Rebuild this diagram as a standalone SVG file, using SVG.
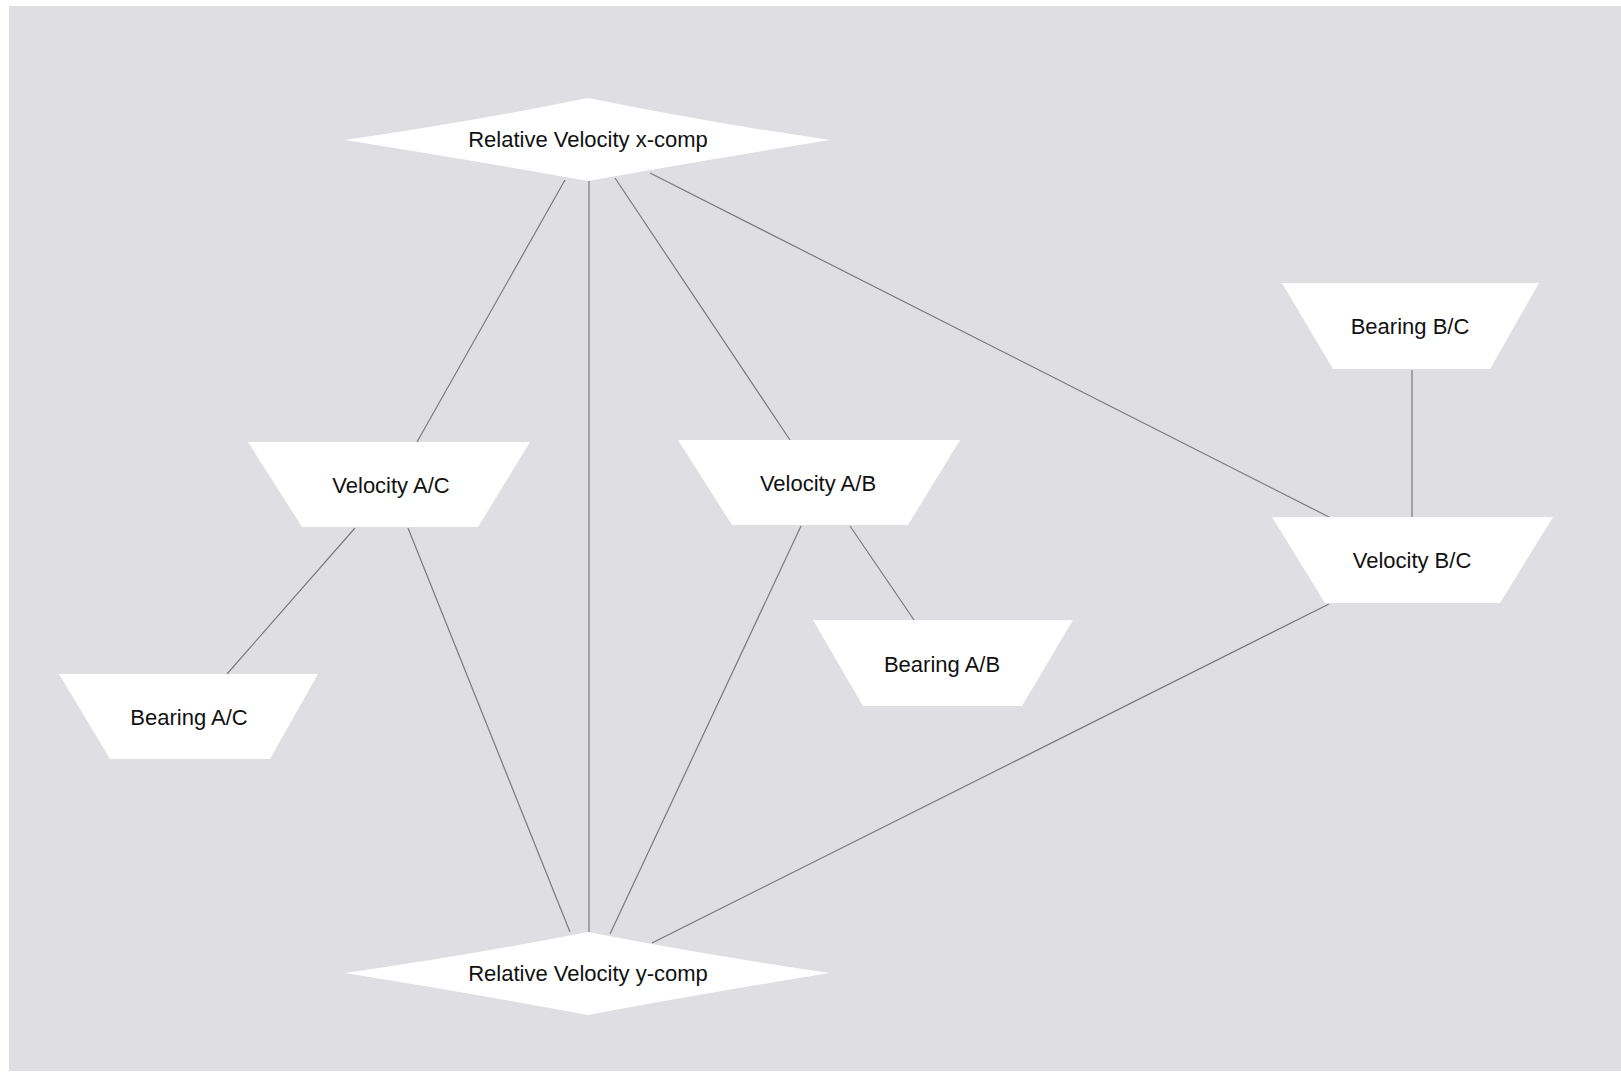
<svg xmlns="http://www.w3.org/2000/svg" width="1621" height="1073" viewBox="0 0 1621 1073">
<style>
.shape{fill:#ffffff;stroke:none}
.lbl{font-family:"Liberation Sans",Arial,sans-serif;font-size:22px;fill:#111;text-anchor:middle}
.edge{stroke:#7a7a7a;stroke-width:1.2;fill:none}
</style>
<rect x="0" y="0" width="1621" height="1073" fill="#ffffff"/>
<rect x="9" y="6" width="1612" height="1065" fill="#dfdee3"/>
<g id="connectors">
<line class="edge" x1="565" y1="180" x2="417" y2="442"/>
<line class="edge" x1="589" y1="181" x2="589" y2="932"/>
<line class="edge" x1="615" y1="178" x2="790" y2="440"/>
<line class="edge" x1="650" y1="173" x2="1329" y2="517"/>
<line class="edge" x1="1412" y1="370" x2="1412" y2="517"/>
<line class="edge" x1="355" y1="528" x2="227" y2="674"/>
<line class="edge" x1="408" y1="528" x2="570" y2="932"/>
<line class="edge" x1="801" y1="526" x2="610" y2="934"/>
<line class="edge" x1="850" y1="526" x2="914" y2="620"/>
<line class="edge" x1="1329" y1="604" x2="652" y2="943"/>
</g>
<g id="rel-vel-x">
<path class="shape" d="M345,140 Q470,122 588,98 Q706,122 830,140 Q706,160 588,181 Q470,160 345,140 Z"/>
<text class="lbl" x="588" y="147">Relative Velocity x-comp</text>
</g>
<g id="rel-vel-y">
<path class="shape" d="M345,973 Q470,955 588,932 Q706,955 830,973 Q706,993 588,1015 Q470,993 345,973 Z"/>
<text class="lbl" x="588" y="981">Relative Velocity y-comp</text>
</g>
<g id="velocity-ac">
<polygon class="shape" points="248,442 530,442 478,527 302,527"/>
<text class="lbl" x="391" y="493">Velocity A/C</text>
</g>
<g id="bearing-ac">
<polygon class="shape" points="59,674 318,674 270,759 110,759"/>
<text class="lbl" x="189" y="725">Bearing A/C</text>
</g>
<g id="velocity-ab">
<polygon class="shape" points="678,440 960,440 908,525 732,525"/>
<text class="lbl" x="818" y="491">Velocity A/B</text>
</g>
<g id="bearing-ab">
<polygon class="shape" points="813,620 1073,620 1022,706 863,706"/>
<text class="lbl" x="942" y="672">Bearing A/B</text>
</g>
<g id="bearing-bc">
<polygon class="shape" points="1282,283 1539,283 1490,369 1333,369"/>
<text class="lbl" x="1410" y="334">Bearing B/C</text>
</g>
<g id="velocity-bc">
<polygon class="shape" points="1272,517 1553,517 1500,603 1325,603"/>
<text class="lbl" x="1412" y="568">Velocity B/C</text>
</g>
</svg>
